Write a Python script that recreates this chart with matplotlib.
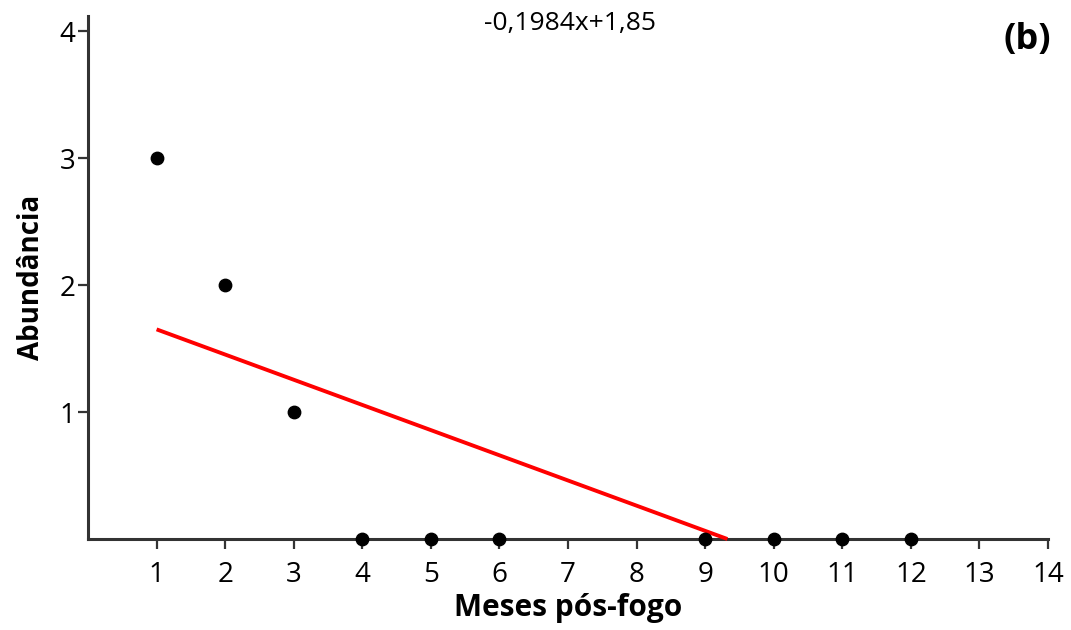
import numpy as np
import matplotlib.pyplot as plt

plt.rcParams['font.family'] = ['Open Sans', 'DejaVu Sans']

# data
meses = [1, 2, 3, 4, 5, 6, 9, 10, 11, 12]
abundancia = [3, 2, 1, 0, 0, 0, 0, 0, 0, 0]
slope = -0.1984
intercept = 1.85
xticks = list(range(1, 15))
yticks = [1, 2, 3, 4]

fig = plt.figure(figsize=(10.71, 6.3), dpi=100)
ax = fig.add_axes([0.0822, 0.1444, 0.8963, 0.8302])

# regression line, from x=1 to where it hits zero
x_end = -intercept / slope
xl = np.array([1, x_end])
ax.plot(xl, slope * xl + intercept, color='#ff0000', lw=2.8, zorder=3,
        solid_capstyle='butt', clip_on=False)

ax.scatter(meses, abundancia, s=80, color='black', zorder=4, clip_on=False)

ax.set_xlim(0, 14)
ax.set_ylim(0, 4.12)
ax.set_xticks(xticks)
ax.set_yticks(yticks)

for side in ['top', 'right']:
    ax.spines[side].set_visible(False)
for side in ['left', 'bottom']:
    ax.spines[side].set_linewidth(2.2)
    ax.spines[side].set_color('#333333')

ax.tick_params(axis='x', direction='out', length=7, width=1.6, color='#333333',
               labelsize=20, pad=9)
ax.tick_params(axis='y', direction='out', length=7, width=1.6, color='#333333',
               labelsize=20, pad=2)

ax.set_xlabel('Meses pós-fogo', fontsize=21.5, fontweight='bold', labelpad=3)
ax.set_ylabel('Abundância', fontsize=20, fontweight='bold', labelpad=10)

fig.text(0.532, 0.962, '-0,1984x+1,85', fontsize=19, ha='center', va='center')
fig.text(0.959, 0.937, '(b)', fontsize=26, fontweight='bold', ha='center', va='center')

fig.savefig('out.png', dpi=100)
